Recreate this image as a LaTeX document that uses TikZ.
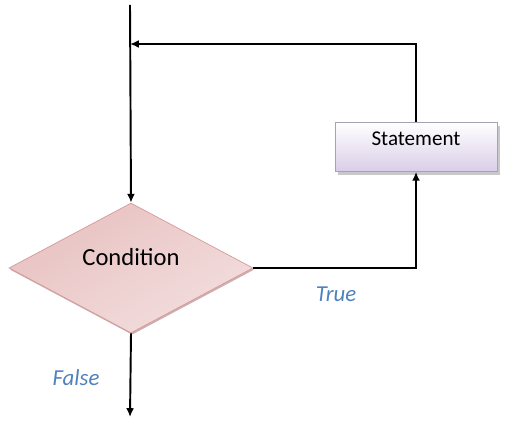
\documentclass[tikz,border=0pt]{standalone}
\usepackage{fontspec}
\setmainfont{Carlito}
\usetikzlibrary{shapes.geometric,arrows.meta,shadows}

\definecolor{condfill}{HTML}{E8C1C1}
\definecolor{condlight}{HTML}{F3DEDE}
\definecolor{condline}{HTML}{D59A99}
\definecolor{stmtfill}{HTML}{D9CDE8}
\definecolor{stmtline}{HTML}{A7A3B6}
\definecolor{labelblue}{HTML}{4F81BD}

\begin{document}
\begin{tikzpicture}[x=0.02cm,y=-0.02cm,
  flow/.style={line width=1.1pt,-{Latex[length=5pt,width=4.5pt]}},
  decision/.style={diamond,draw=condline,line width=0.4pt,
    top color=condfill,bottom color=condlight,shading angle=30,
    minimum width=4.88cm,minimum height=2.6cm,inner sep=0pt,aspect=1.88,
    text depth=0.43cm,font=\fontsize{14}{16}\selectfont,
    drop shadow={shadow xshift=0.6pt,shadow yshift=-1pt,fill=condline!80!black,opacity=0.6}},
  process/.style={rectangle,draw=stmtline,line width=0.4pt,
    top color=white,bottom color=stmtfill,
    minimum width=3.24cm,minimum height=0.98cm,inner sep=0pt,
    text depth=0.32cm,font=\fontsize{12}{14}\selectfont,
    drop shadow={shadow xshift=1.8pt,shadow yshift=-1.8pt,fill=gray!60,opacity=0.7}},
  branch/.style={text=labelblue,font=\fontsize{13}{15}\selectfont\itshape}]
\useasboundingbox (0,0) rectangle (509,431);

\node[decision] (cond) at (131,268) {Condition};
\node[process] (stmt) at (416,147) {Statement};

\coordinate (start) at (130,5);
\coordinate (join) at (130,44);
\coordinate (exit) at (130,417);

% loop body
\draw[flow] (start) -- (cond.north);
\draw[flow] (cond.east) -| (stmt.south);
\draw[flow] (stmt.north) |- (join);
\draw[flow] (cond.south) -- (exit);

\node[branch] (true) at (336,294) {True};
\node[branch] (false) at (76,378) {False};
\end{tikzpicture}
\end{document}
